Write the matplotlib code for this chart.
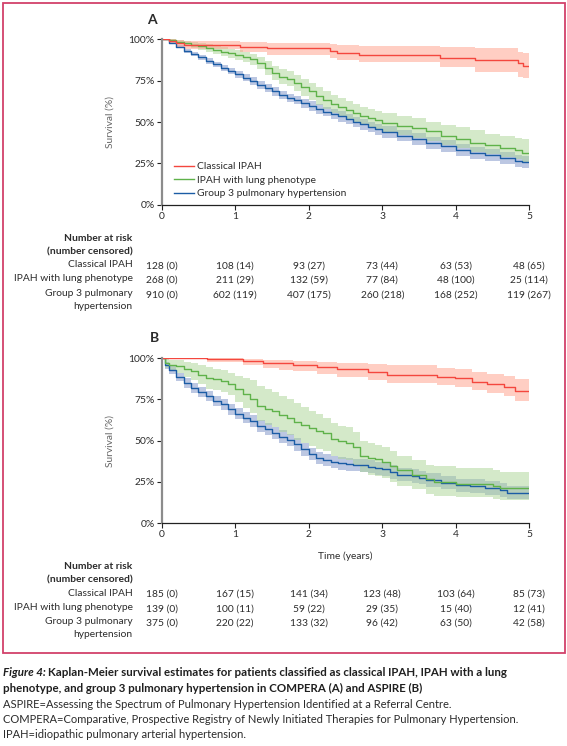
import matplotlib
matplotlib.use("Agg")
import matplotlib.pyplot as plt
from matplotlib.patches import Rectangle
from matplotlib.lines import Line2D
from matplotlib.transforms import blended_transform_factory

plt.rcParams['font.family'] = ['Lato', 'DejaVu Sans']

######### DATA #########
# --- Panel A: COMPERA ---
red_a_t = [0, 0.1, 0.2, 0.3, 1.07, 1.43, 2.29, 2.38, 2.68, 3.79, 4.26, 4.85, 4.91, 5.0]
red_a_s = [100, 99, 98, 96.6, 95.6, 94.6, 93, 92, 90.5, 88.9, 87.5, 85.9, 84, 84]
red_a_lo = [100, 97, 95.5, 94, 92.5, 90.5, 88.5, 87.5, 86, 83.5, 80.5, 77.5, 76.5, 76.5]
red_a_hi = [100, 100, 99.5, 99.2, 98.6, 98, 97, 96.6, 96, 95.6, 94.6, 92.6, 92, 92]

grid_a = [0, 0.1, 0.2, 0.3, 0.4, 0.5, 0.6, 0.7, 0.8, 0.9, 1.0, 1.1, 1.2, 1.3, 1.4, 1.5, 1.6, 1.7,
          1.8, 1.9, 2.0, 2.1, 2.2, 2.3, 2.4, 2.5, 2.6, 2.7, 2.8, 2.9, 3.0, 3.2, 3.4, 3.6, 3.8,
          4.0, 4.2, 4.4, 4.6, 4.8, 4.9, 5.0]
green_a_s = [100, 99.5, 98.6, 97.8, 96.8, 95.8, 94.8, 93.8, 92.6, 91.6, 90.4, 89.2, 87.8, 85.6,
             82.5, 79.8, 77.5, 76.2, 73.8, 71, 68.5, 65.8, 63.5, 61, 59, 57, 55.2, 53.6, 52.2,
             51, 49.6, 47.8, 46.4, 44.4, 41.8, 39.8, 37.5, 35.8, 34.4, 33.2, 31.2, 31.2]
green_a_lo = [100, 98.8, 97.5, 96.3, 95, 93.8, 92.5, 91.3, 90, 88.8, 87.5, 86, 84.3, 81.8, 78.5,
              75.6, 73, 71.5, 69, 66, 63.5, 60.5, 58, 55.5, 53.5, 51.5, 49.5, 48, 46.5, 45.2,
              44, 42, 40.5, 38.5, 36, 34, 32, 30.5, 29, 27.8, 26, 26]
green_a_hi = [100, 100, 99.6, 99, 98.4, 97.6, 96.9, 96.1, 95.2, 94.4, 93.4, 92.4, 91.3, 89.4,
              86.6, 84, 82, 80.9, 78.6, 76, 73.5, 71, 68.8, 66.5, 64.5, 62.5, 61, 59.2, 57.8,
              56.7, 55.3, 53.5, 52.2, 50.3, 48, 47, 45, 43, 41.5, 40.5, 39.5, 39.5]
blue_a_s = [100, 98, 95.6, 93.2, 91.2, 89, 87, 84.8, 82.8, 80.8, 78.8, 76.8, 74.8, 72.2, 70.5,
            68.5, 66.5, 64.6, 63.3, 61.4, 59.6, 57.8, 56.3, 55, 53.4, 51.6, 50, 48.6, 47, 45.6,
            44, 41.8, 39.6, 37.4, 35.4, 33.2, 31.2, 30, 28.2, 26.3, 25.7, 25.7]
blue_a_lo = [100, 97.2, 94.5, 91.9, 89.7, 87.4, 85.3, 83, 80.9, 78.8, 76.7, 74.6, 72.5, 69.9,
             68.1, 66, 63.9, 62, 60.6, 58.6, 56.8, 54.9, 53.4, 52, 50.3, 48.5, 46.8, 45.4, 43.7,
             42.3, 40.6, 38.3, 36, 33.8, 31.7, 29.5, 27.5, 26.2, 24.4, 22.5, 21.9, 21.9]
blue_a_hi = [100, 98.7, 96.6, 94.4, 92.6, 90.5, 88.6, 86.5, 84.6, 82.7, 80.8, 78.9, 77, 74.5,
             72.8, 70.9, 69, 67.2, 66, 64.1, 62.4, 60.7, 59.2, 58, 56.5, 54.7, 53.2, 51.8, 50.3,
             48.9, 47.4, 45.3, 43.2, 41, 39.1, 36.9, 34.9, 33.8, 32, 30.1, 29.5, 29.5]

# --- Panel B: ASPIRE ---
red_b_t = [0, 0.61, 1.11, 1.38, 1.6, 1.79, 2.11, 2.38, 2.81, 3.06, 3.74, 3.99, 4.22, 4.42, 4.65, 4.81, 5.0]
red_b_s = [100, 99.2, 98.2, 97.2, 96.8, 96, 94.6, 93.2, 91.4, 89.8, 88.7, 87.6, 85.5, 84.3, 82.6, 80, 80]
red_b_lo = [100, 97.5, 95.5, 93.8, 93, 92, 90.3, 88.5, 86.5, 85, 83.7, 82.5, 80.6, 79, 77, 74, 73.5]
red_b_hi = [100, 100, 99.6, 99, 98.8, 98.3, 97.5, 96.8, 96.2, 95.5, 94, 93.3, 91.5, 90.5, 89, 87.5, 87.3]

green_b_t = [0, 0.05, 0.1, 0.2, 0.3, 0.4, 0.5, 0.6, 0.7, 0.8, 0.9, 1.0, 1.1, 1.2, 1.3, 1.4, 1.5,
             1.6, 1.7, 1.8, 1.9, 2.0, 2.1, 2.2, 2.3, 2.4, 2.5, 2.6, 2.7, 2.8, 2.9, 3.0, 3.1, 3.2,
             3.4, 3.6, 3.7, 4.0, 4.5, 4.6, 5.0]
green_b_s = [100, 97, 96, 95, 93.4, 92, 90, 88, 87, 86, 84.5, 81, 78, 75, 71, 69, 68, 65.5, 63.5,
             61, 59.5, 57.5, 56, 54.5, 51, 49.5, 48.5, 46, 41, 39.5, 38.6, 37.2, 34.8, 32, 29.5,
             26.5, 25, 24, 22.5, 21.2, 21.2]
green_b_lo = [100, 94, 92.5, 91, 88.5, 86.5, 84, 81.5, 80.5, 79.5, 77.5, 73.5, 70, 66.5, 62,
              59.5, 58, 55.5, 53.5, 50.5, 48.5, 46.5, 45, 43.5, 40.5, 39, 38, 35.5, 31, 29.5,
              28.8, 27.5, 25, 22.5, 20.5, 17.8, 16.5, 16, 14.8, 13.8, 13.8]
green_b_hi = [100, 99.5, 99, 98.5, 97.8, 97, 95.8, 94.5, 93.5, 92.5, 91, 89, 87.8, 86.5, 83, 81,
              79.5, 77, 75, 72.5, 70.5, 68, 66, 64, 60.5, 59, 58, 55.5, 50, 48.5, 47.5, 46,
              43.5, 41, 38.5, 35.5, 34.5, 33.5, 32, 31.3, 31.3]

blue_b_t = [0, 0.05, 0.1, 0.2, 0.3, 0.4, 0.5, 0.6, 0.7, 0.8, 0.9, 1.0, 1.1, 1.2, 1.3, 1.4, 1.5,
            1.6, 1.7, 1.8, 1.9, 2.0, 2.1, 2.2, 2.3, 2.4, 2.5, 2.6, 2.7, 2.8, 2.9, 3.0, 3.1, 3.2,
            3.4, 3.5, 3.6, 3.8, 4.0, 4.2, 4.4, 4.6, 4.7, 5.0]
blue_b_s = [100, 95.5, 93, 88.5, 84.8, 82, 79.2, 76.8, 74, 72, 69, 66.3, 64, 61.8, 59, 57, 54.5,
            52.4, 50.3, 47.8, 44.8, 42, 39.6, 38.3, 37.2, 36.2, 35.6, 35.3, 35, 34.2, 33.4, 32.6,
            31, 29.5, 28.6, 27.6, 26.2, 24.5, 23.1, 22.5, 21.5, 20.1, 18.6, 18.6]
blue_b_lo = [100, 93.5, 90.6, 85.8, 82, 79, 76.2, 73.7, 70.8, 68.7, 65.7, 62.9, 60.5, 58.2, 55.4,
             53.3, 50.8, 48.6, 46.5, 44, 41, 38.2, 35.8, 34.5, 33.4, 32.4, 31.8, 31.4, 31.1, 30.3,
             29.5, 28.6, 27, 25.5, 24.6, 23.6, 22.2, 20.5, 19.1, 18.4, 17.4, 16, 14.6, 14.6]
blue_b_hi = [100, 97.3, 95.3, 91.2, 87.6, 85, 82.2, 79.9, 77.2, 75.3, 72.3, 69.7, 67.5, 65.4,
             62.6, 60.7, 58.2, 56.2, 54.1, 51.6, 48.6, 45.8, 43.4, 42.1, 41, 40, 39.4, 39.2, 38.9,
             38.1, 37.3, 36.6, 35, 33.5, 32.6, 31.6, 30.2, 28.5, 27.1, 26.6, 25.6, 24.2, 22.6, 22.6]

# --- numbers at risk (number censored) ---
group_labels = ["Classical IPAH", "IPAH with lung phenotype", "Group 3 pulmonary\nhypertension"]
risk_a = [["128 (0)", "108 (14)", "93 (27)", "73 (44)", "63 (53)", "48 (65)"],
          ["268 (0)", "211 (29)", "132 (59)", "77 (84)", "48 (100)", "25 (114)"],
          ["910 (0)", "602 (119)", "407 (175)", "260 (218)", "168 (252)", "119 (267)"]]
risk_b = [["185 (0)", "167 (15)", "141 (34)", "123 (48)", "103 (64)", "85 (73)"],
          ["139 (0)", "100 (11)", "59 (22)", "29 (35)", "15 (40)", "12 (41)"],
          ["375 (0)", "220 (22)", "133 (32)", "96 (42)", "63 (50)", "42 (58)"]]
years = [0, 1, 2, 3, 4, 5]
yticks = [0, 25, 50, 75, 100]

caption_bold = ["Kaplan-Meier survival estimates for patients classified as classical IPAH, IPAH with a lung",
                "phenotype, and group 3 pulmonary hypertension in COMPERA (A) and ASPIRE (B)"]
caption_notes = ["ASPIRE=Assessing the Spectrum of Pulmonary Hypertension Identified at a Referral Centre.",
                 "COMPERA=Comparative, Prospective Registry of Newly Initiated Therapies for Pulmonary Hypertension.",
                 "IPAH=idiopathic pulmonary arterial hypertension."]

######### STYLE #########
RED, RED_BAND = '#f4473e', '#ff9f88'
GREEN, GREEN_BAND = '#5fb24a', '#abd495'
BLUE, BLUE_BAND = '#1b5ca5', '#7a91c6'
TXT = '#2b2b2b'
FS = 7.4
W, H = 567.0, 746.0

fig = plt.figure(figsize=(W / 100, H / 100), dpi=100)

def px(x, y):
    # figure pixel (from top-left) -> figure fraction
    return x / W, 1 - y / H

def make_axes(top, bottom):
    left, right = 161.7, 529.3
    ax = fig.add_axes([left / W, 1 - bottom / H, (right - left) / W, (bottom - top) / H])
    ax.set_xlim(0, 5)
    ax.set_ylim(0, 100)
    for s in ['top', 'right']:
        ax.spines[s].set_visible(False)
    ax.spines['left'].set_color('#8c8c8c')
    ax.spines['left'].set_linewidth(1.6)
    ax.spines['bottom'].set_color('#222222')
    ax.spines['bottom'].set_linewidth(0.9)
    ax.set_xticks(years)
    ax.set_yticks(yticks)
    ax.set_yticklabels(["%d%%" % v for v in yticks])
    ax.tick_params(axis='both', labelsize=FS, colors='#222222', labelcolor=TXT,
                   length=3.5, width=0.8, pad=1.5)
    ax.set_ylabel("Survival (%)", fontsize=FS, color='#666666', labelpad=10)
    return ax

def km(ax, t, s, lo, hi, line, band):
    ax.fill_between(t, lo, hi, step='post', color=band, alpha=0.5, lw=0)
    ax.step(t, s, where='post', color=line, lw=1.0)

def risk_table(ax, rows, y_head):
    trans = blended_transform_factory(ax.transData, fig.transFigure)
    lab_x = 132.7 / W
    fig.text(lab_x, px(0, y_head)[1], "Number at risk", ha='right', va='center',
             fontsize=FS, weight='bold', color=TXT)
    fig.text(lab_x, px(0, y_head + 13.5)[1], "(number censored)", ha='right', va='center',
             fontsize=FS, weight='bold', color=TXT)
    for i, (name, vals) in enumerate(zip(group_labels, rows)):
        y = y_head + 27.8 + i * 14.3
        fig.text(lab_x, px(0, y - 6)[1], name, ha='right', va='top',
                 fontsize=FS, color=TXT, linespacing=1.6)
        for yr, v in zip(years, vals):
            ax.text(yr, px(0, y)[1], v, transform=trans, ha='center', va='center',
                    fontsize=FS, color=TXT)

######### PANEL A #########
axA = make_axes(39.3, 204.7)
km(axA, grid_a, blue_a_s, blue_a_lo, blue_a_hi, BLUE, BLUE_BAND)
km(axA, grid_a, green_a_s, green_a_lo, green_a_hi, GREEN, GREEN_BAND)
km(axA, red_a_t, red_a_s, red_a_lo, red_a_hi, RED, RED_BAND)
handles = [Line2D([], [], color=c, lw=1.0) for c in (RED, GREEN, BLUE)]
axA.legend(handles, ["Classical IPAH", "IPAH with lung phenotype", "Group 3 pulmonary hypertension"],
           loc='lower left', bbox_to_anchor=(0.033, 0.038), frameon=False, fontsize=FS,
           handlelength=2.0, handletextpad=0.3, labelspacing=0.42, borderpad=0, borderaxespad=0,
           labelcolor=TXT)
fig.text(*px(147, 20), "A", fontsize=10, weight='bold', color=TXT, ha='left', va='center')
risk_table(axA, risk_a, 238.3)

######### PANEL B #########
axB = make_axes(358, 523.3)
km(axB, blue_b_t, blue_b_s, blue_b_lo, blue_b_hi, BLUE, BLUE_BAND)
km(axB, green_b_t, green_b_s, green_b_lo, green_b_hi, GREEN, GREEN_BAND)
km(axB, red_b_t, red_b_s, red_b_lo, red_b_hi, RED, RED_BAND)
fig.text(*px(150, 338), "B", fontsize=10, weight='bold', color=TXT, ha='left', va='center')
fig.text(*px(345.5, 556), "Time (years)", fontsize=FS, color=TXT, ha='center', va='center')
risk_table(axB, risk_b, 566.7)

######### FRAME + CAPTION #########
x0, y0 = px(3, 653)
fig.patches.append(Rectangle((x0, y0), (565 - 3) / W, (653 - 3) / H, transform=fig.transFigure,
                             fill=False, edgecolor='#d2416a', lw=1.3))

fig.canvas.draw()
renderer = fig.canvas.get_renderer()
lead = fig.text(*px(3, 672), "Figure 4:", fontsize=8.25, weight='bold', style='italic',
                color='#1f1f1f', ha='left', va='center')
bb = lead.get_window_extent(renderer)
fig.text((bb.x1 + 2.5) / W, px(0, 672)[1], caption_bold[0], fontsize=8.25, weight='bold',
         color='#1f1f1f', ha='left', va='center')
fig.text(*px(3, 688), caption_bold[1], fontsize=8.25, weight='bold', color='#1f1f1f',
         ha='left', va='center')
for i, line in enumerate(caption_notes):
    fig.text(*px(3, 704 + i * 15.5), line, fontsize=8.0, color=TXT, ha='left', va='center')

fig.savefig("out.png", dpi=100)
